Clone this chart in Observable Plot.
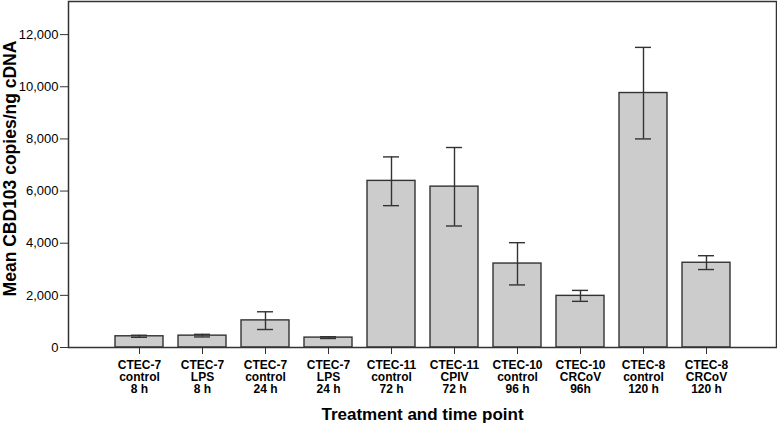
<!DOCTYPE html>
<html>
<head>
<meta charset="utf-8">
<script src="https://cdn.jsdelivr.net/npm/d3@7"></script>
<script src="https://cdn.jsdelivr.net/npm/@observablehq/plot@0.6"></script>
<style>
  html, body { margin: 0; padding: 0; background: #fff; }
  #chart svg { display: block; }
</style>
</head>
<body>
<div id="chart"></div>
<script>
const categories = [
  "CTEC-7\ncontrol\n8 h",
  "CTEC-7\nLPS\n8 h",
  "CTEC-7\ncontrol\n24 h",
  "CTEC-7\nLPS\n24 h",
  "CTEC-11\ncontrol\n72 h",
  "CTEC-11\nCPIV\n72 h",
  "CTEC-10\ncontrol\n96 h",
  "CTEC-10\nCRCoV\n96h",
  "CTEC-8\ncontrol\n120 h",
  "CTEC-8\nCRCoV\n120 h"
];
const means = [430, 455, 1040, 380, 6390, 6170, 3220, 1980, 9760, 3250];
const errLow = [390, 405, 690, 345, 5440, 4660, 2400, 1770, 8000, 2990];
const errHigh = [470, 505, 1370, 415, 7310, 7670, 4020, 2190, 11510, 3520];
const yTicks = [0, 2000, 4000, 6000, 8000, 10000, 12000];

const data = categories.map((c, i) => ({cat: c, mean: means[i], lo: errLow[i], hi: errHigh[i]}));

const ink = "#333333";
const chart = Plot.plot({
  width: 777,
  height: 425,
  marginLeft: 68,
  marginRight: 1,
  marginTop: 1,
  marginBottom: 78,
  style: {fontFamily: "'Liberation Sans', Arial, sans-serif", fontSize: "12px", color: "#000", background: "#fff"},
  x: {domain: categories, paddingInner: 0.245, paddingOuter: 0.675},
  y: {domain: [0, 13270]},
  marks: [
    Plot.barY(data, {x: "cat", y: "mean", fill: "#cccccc", stroke: ink, strokeWidth: 1.4}),
    Plot.ruleX(data, {x: "cat", y1: "lo", y2: "hi", stroke: ink, strokeWidth: 1.4}),
    Plot.tickY(data, {x: "cat", y: "lo", stroke: ink, strokeWidth: 1.4, insetLeft: 16, insetRight: 16}),
    Plot.tickY(data, {x: "cat", y: "hi", stroke: ink, strokeWidth: 1.4, insetLeft: 16, insetRight: 16}),
    Plot.frame({stroke: ink, strokeWidth: 1.5}),
    Plot.axisY({
      ticks: yTicks, tickFormat: d3.format(","), tickSize: 8, tickPadding: 2,
      stroke: ink, fontSize: 13,
      label: "Mean CBD103 copies/ng cDNA", labelAnchor: "center", labelArrow: "none", labelOffset: 65
    }),
    Plot.axisX({
      tickSize: 7, tickPadding: 6, stroke: ink, fontSize: 12, fontWeight: "bold", lineHeight: 1,
      label: "Treatment and time point", labelAnchor: "center", labelArrow: "none", labelOffset: 72
    })
  ]
});

// Bold, larger axis titles
d3.select(chart).selectAll("g[aria-label='y-axis label'] text")
  .style("font-weight", "bold").style("font-size", "17.5px").attr("dx", 6);
d3.select(chart).selectAll("g[aria-label='x-axis label'] text")
  .style("font-weight", "bold").style("font-size", "17px");

document.getElementById("chart").appendChild(chart);
</script>
</body>
</html>
